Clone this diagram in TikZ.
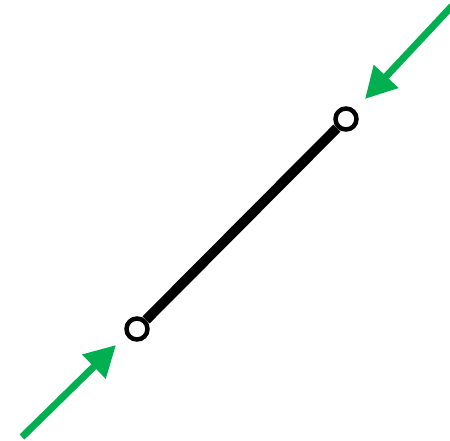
\documentclass[tikz,border=0pt]{standalone}
\usetikzlibrary{arrows.meta,positioning,calc}
\definecolor{Push}{HTML}{00B050}

\tikzset{
  joint/.style={circle,draw=black,fill=white,line width=4.5pt,minimum size=21pt,inner sep=0pt},
  bar/.style={line width=10pt,black},
  push/.style={Push,line width=7pt,-{Triangle[length=31pt,width=32pt]}}
}

\begin{document}
\begin{tikzpicture}[x=1pt,y=-1pt]
  \useasboundingbox (0,0) rectangle (450,441);
  % the member and its two pin ends
  \node[joint] (lo) at (137,329) {};
  \node[joint] (hi) at (346,119) {};
  \draw[bar] (lo) -- (hi);
  % forces pressing on the ends
  \coordinate (tailA) at (22,437);
  \coordinate (tipA) at (116,345);
  \coordinate (tailB) at (452,6);
  \coordinate (tipB) at (365,99);
  \draw[push] (tailA) -- (tipA);
  \draw[push] (tailB) -- (tipB);
\end{tikzpicture}
\end{document}
